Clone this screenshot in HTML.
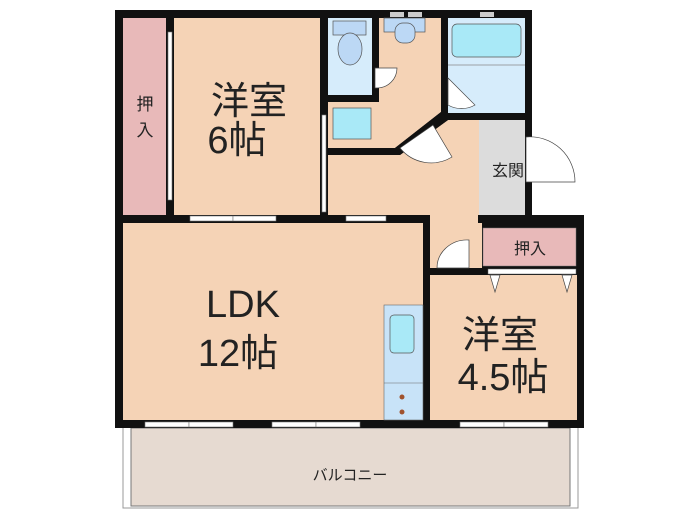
<!DOCTYPE html>
<html><head><meta charset="utf-8"><style>
body{margin:0;background:#fff}
svg{display:block}
text{font-family:"Liberation Sans","Noto Sans CJK JP",sans-serif;fill:#222}
</style></head><body>
<svg width="700" height="525" viewBox="0 0 700 525">
<rect x="123" y="426" width="455" height="82" fill="#fff" stroke="#999" stroke-width="1"/>
<rect x="131" y="428" width="439" height="78" fill="#e6dad1" stroke="#777" stroke-width="1"/>
<text x="350" y="480" font-size="15" text-anchor="middle">バルコニー</text>
<rect x="115" y="10" width="417" height="210" fill="#111"/>
<rect x="115" y="215" width="469" height="213" fill="#111"/>
<rect x="123" y="18" width="43" height="197" fill="#e8b9b9"/>
<rect x="174" y="18" width="146" height="197" fill="#f5d3b6"/>
<rect x="328" y="18" width="44" height="77" fill="#d6ecfb"/>
<polygon points="379,18 441,18 441,112 395,148 328,148 328,102 379,102" fill="#f5d3b6"/>
<rect x="448" y="18" width="77" height="95" fill="#d6ecfb"/>
<polygon points="328,155 400,155 448,120 479,120 479,215 430,215 430,268 482,268 482,223 430,223 430,215 328,215" fill="#f5d3b6"/>
<rect x="430" y="215" width="48" height="53" fill="#f5d3b6"/>
<rect x="479" y="120" width="46" height="95" fill="#dcdcdc"/>
<rect x="123" y="223" width="300" height="197" fill="#f5d3b6"/>
<rect x="483" y="228" width="93" height="38" fill="#e8b9b9" stroke="#777" stroke-width="0.5"/>
<rect x="430" y="275" width="147" height="145" fill="#f5d3b6"/>
<polygon points="328,148 395,148 441,112 448,120 400,155 328,155" fill="#111"/>
<rect x="333" y="21" width="33" height="14" fill="#bcd8f5" stroke="#555" stroke-width="0.7"/>
<ellipse cx="350" cy="49" rx="12" ry="16" fill="#bcd8f5" stroke="#555" stroke-width="0.7"/>
<rect x="384" y="18" width="41" height="14" fill="#bcd8f5" stroke="#555" stroke-width="0.7"/>
<rect x="395" y="23" width="20" height="20" rx="8" fill="#bcd8f5" stroke="#555" stroke-width="0.7"/>
<rect x="390" y="12" width="14" height="5" fill="#ccc"/><rect x="408" y="12" width="14" height="5" fill="#ccc"/>
<rect x="480" y="12" width="14" height="5" fill="#ccc"/>
<rect x="452" y="24" width="69" height="33" rx="5" fill="#a9e9f7" stroke="#555" stroke-width="0.7"/>
<line x1="448" y1="65" x2="525" y2="65" stroke="#888" stroke-width="0.7"/>
<rect x="333" y="108" width="38" height="31" fill="#a9e9f7" stroke="#555" stroke-width="0.7"/>
<rect x="384" y="305" width="39" height="115" fill="#c8e3f8" stroke="#666" stroke-width="0.6"/>
<line x1="384" y1="383" x2="423" y2="383" stroke="#666" stroke-width="0.6"/>
<rect x="390" y="315" width="24" height="38" rx="4" fill="#a9e9f7" stroke="#555" stroke-width="0.7"/>
<circle cx="402" cy="397" r="2.5" fill="#a0522d"/><circle cx="402" cy="412" r="2.5" fill="#a0522d"/>
<path d="M375,68 L375,88 L377,88 A20,20 0 0 0 397,68 Z" fill="#fff" stroke="#444" stroke-width="0.7"/>
<path d="M448,78 L448,105 A27,27 0 0 0 475,105 Z" fill="#fff" stroke="#444" stroke-width="0.7"/>
<path d="M526,137 L526,182 L575,182 A45,45 0 0 0 526,137 Z" fill="#fff" stroke="#444" stroke-width="0.7"/>
<path d="M400,148 L433,125 L452,157 A40,40 0 0 1 400,148 Z" fill="#fff" stroke="#444" stroke-width="0.7"/>
<path d="M437,268 L469,268 L469,240 A30,28 0 0 0 437,268 Z" fill="#fff" stroke="#444" stroke-width="0.7"/>
<polygon points="490,275 500,275 495,292" fill="#fff" stroke="#444" stroke-width="0.7"/>
<polygon points="562,275 572,275 567,292" fill="#fff" stroke="#444" stroke-width="0.7"/>
<rect x="488" y="269" width="88" height="5" fill="#fff" stroke="#666" stroke-width="0.5"/>
<g fill="#fff" stroke="#777" stroke-width="0.6">
<rect x="168" y="32" width="4" height="168"/>
<rect x="322" y="115" width="4" height="97"/>
<rect x="190" y="216" width="43" height="5"/><rect x="233" y="216" width="43" height="5"/>
<rect x="346" y="216" width="40" height="5"/>
<rect x="145" y="422" width="44" height="5"/><rect x="189" y="422" width="44" height="5"/>
<rect x="272" y="422" width="44" height="5"/><rect x="316" y="422" width="44" height="5"/>
<rect x="460" y="422" width="44" height="5"/><rect x="504" y="422" width="44" height="5"/>
</g>
<text x="145" y="110" font-size="17" text-anchor="middle">押</text>
<text x="145" y="136" font-size="17" text-anchor="middle">入</text>
<text x="249" y="114" font-size="38" text-anchor="middle">洋室</text>
<text x="237" y="153" font-size="38" text-anchor="middle">6帖</text>
<text x="508" y="176" font-size="16" text-anchor="middle">玄関</text>
<text x="530" y="254" font-size="16" text-anchor="middle">押入</text>
<text x="243" y="317" font-size="38" text-anchor="middle">LDK</text>
<text x="238" y="366" font-size="38" text-anchor="middle">12帖</text>
<text x="500" y="348" font-size="38" text-anchor="middle">洋室</text>
<text x="503" y="390" font-size="38" text-anchor="middle">4.5帖</text>
</svg>
</body></html>
